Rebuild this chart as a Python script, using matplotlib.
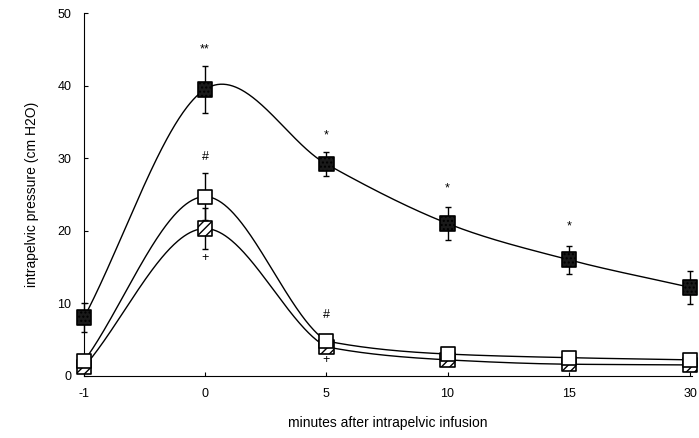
import numpy as np
import matplotlib.pyplot as plt

plt.rcParams['font.family'] = ['Liberation Sans', 'DejaVu Sans']

# time points (minutes after intrapelvic infusion), drawn at equal spacing
minutes = ['-1', '0', '5', '10', '15', '30']

# mean intrapelvic pressure (cm H2O) and SEM per group
dark_mean = [8.0, 39.5, 29.2, 21.0, 16.0, 12.2]
dark_err = [2.0, 3.2, 1.7, 2.3, 1.9, 2.3]
open_mean = [2.0, 24.7, 4.8, 3.0, 2.5, 2.2]
open_err = [0.6, 3.2, 0.8, 0.5, 0.4, 0.4]
hatch_mean = [1.2, 20.3, 4.0, 2.2, 1.6, 1.5]
hatch_err = [0.4, 2.8, 0.6, 0.3, 0.3, 0.3]

# significance marks: (time index, text, y)
marks = [(1, '**', 45.0), (2, '*', 33.2), (3, '*', 25.8), (4, '*', 20.6),
         (1, '#', 30.2), (2, '#', 8.4), (1, '+', 16.3), (2, '+', 2.2)]


def pchip_slopes(y):
    d = np.diff(y)
    m = np.zeros(len(y))
    for i in range(1, len(y) - 1):
        if d[i - 1] * d[i] > 0:
            m[i] = 2 / (1 / d[i - 1] + 1 / d[i])
    m[0] = d[0]
    m[-1] = d[-1]
    return m


def hermite(y, m_out, m_in, xs):
    # piecewise cubic on unit spacing, separate leaving/arriving slopes
    y = np.asarray(y, float)
    i = np.clip(np.floor(xs).astype(int), 0, len(y) - 2)
    t = xs - i
    h00 = 2 * t**3 - 3 * t**2 + 1
    h10 = t**3 - 2 * t**2 + t
    h01 = -2 * t**3 + 3 * t**2
    h11 = t**3 - t**2
    return h00 * y[i] + h10 * m_out[i] + h01 * y[i + 1] + h11 * m_in[i + 1]


pos = np.arange(len(minutes))
xs = np.linspace(0, pos[-1], 600)

fig = plt.figure(figsize=(6.99, 4.38), dpi=100)
ax = fig.add_axes([0.120, 0.142, 0.870, 0.828])

# upper curve: Catmull-Rom style slopes, so it keeps rising a little past 0
dm = np.gradient(np.asarray(dark_mean, float))
ax.plot(xs, hermite(dark_mean, dm, dm, xs), color='black', lw=1.0, zorder=2)

# lower curves: monotone slopes, steeper arrival at the 5 min point
for mean in (open_mean, hatch_mean):
    m = pchip_slopes(np.asarray(mean, float))
    m_in = m.copy()
    m_in[2] = (mean[3] - mean[1]) / 2
    ax.plot(xs, hermite(mean, m, m_in, xs), color='black', lw=1.0, zorder=2)

sq = 110
ax.errorbar(pos, hatch_mean, yerr=hatch_err, fmt='none', ecolor='black',
            elinewidth=1, capsize=2.2, zorder=3, clip_on=False)
ax.scatter(pos, hatch_mean, s=sq, marker='s', facecolor='white',
           edgecolor='black', hatch='////', linewidths=1.2, zorder=4, clip_on=False)
ax.errorbar(pos, open_mean, yerr=open_err, fmt='none', ecolor='black',
            elinewidth=1, capsize=2.2, zorder=5, clip_on=False)
ax.scatter(pos, open_mean, s=sq, marker='s', facecolor='white',
           edgecolor='black', linewidths=1.2, zorder=6, clip_on=False)
ax.errorbar(pos, dark_mean, yerr=dark_err, fmt='none', ecolor='black',
            elinewidth=1, capsize=2.2, zorder=5, clip_on=False)
ax.scatter(pos, dark_mean, s=sq, marker='s', facecolor='#1a1a1a',
           edgecolor='black', hatch='....', linewidths=1.2, zorder=6, clip_on=False)

for i, txt, y in marks:
    ax.text(pos[i], y, txt, ha='center', va='center', fontsize=9)

ax.set_xlim(0, 5.0165)
ax.set_ylim(0, 50)
ax.set_xticks(pos)
ax.set_xticklabels(minutes)
ax.set_yticks([0, 10, 20, 30, 40, 50])
ax.tick_params(axis='both', direction='in', length=3, labelsize=9, pad=9)
ax.spines['top'].set_visible(False)
ax.spines['right'].set_visible(False)
ax.set_ylabel('intrapelvic pressure (cm H2O)', fontsize=10, labelpad=13)
ax.set_xlabel('minutes after intrapelvic infusion', fontsize=10, labelpad=11)

fig.savefig('out.png', dpi=100)
